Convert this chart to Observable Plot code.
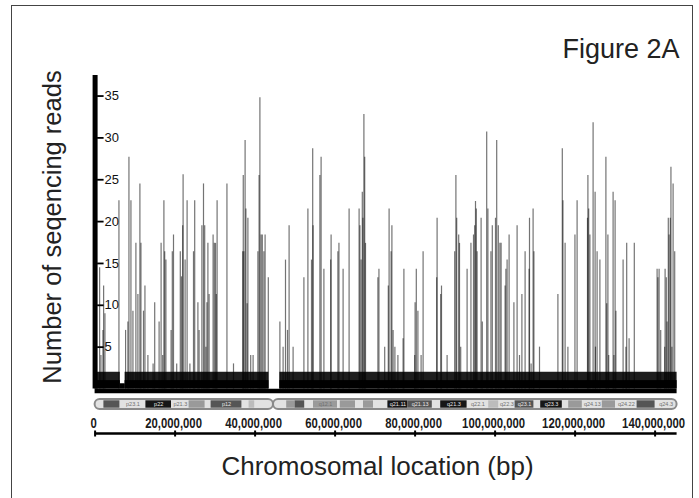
<!DOCTYPE html>
<html>
<head>
<meta charset="utf-8">
<script src="https://cdn.jsdelivr.net/npm/d3@7"></script>
<script src="https://cdn.jsdelivr.net/npm/@observablehq/plot@0.6"></script>
<style>
html,body{margin:0;padding:0;background:#fff;overflow:hidden}
#wrap{position:relative;width:699px;height:498px;overflow:hidden}
#frame{position:absolute;left:11px;top:5px;width:682px;height:540px;border:1.6px solid #444;box-sizing:border-box}
#wrap svg{position:absolute;left:0;top:0}
</style>
</head>
<body>
<div id="wrap"><div id="frame"></div></div>
<script>
// ---------------- DATA ----------------
// Read-count spikes along chromosome 8: position (Mb) and number of reads
const spikePos = [
  1.13,1.46,1.96,2.13,2.46,5.96,7.62,8.2,8.46,8.96,9.46,10.2,10.7,11.2,11.46,12.1,12.46,13.2,14.5,14.9,
  16.0,16.5,16.9,17.2,17.4,17.7,19.0,19.3,19.6,20.4,21.3,21.6,21.9,22.0,22.5,23.0,23.7,24.6,24.9,25.7,
  26.0,26.7,27.1,27.4,27.7,27.96,28.2,28.5,29.5,29.8,30.1,30.3,30.5,32.96,34.6,36.9,
  37.04,37.2,37.5,37.7,38.0,38.2,38.9,39.5,40.7,41.0,41.2,41.5,41.8,42.2,42.5,43.3,
  46.2,47.0,47.6,48.1,48.5,49.5,52.2,53.2,54.1,54.4,54.5,56.2,56.5,57.2,58.9,59.0,60.7,60.96,62.0,63.5,
  66.0,66.2,66.5,66.8,66.96,67.2,67.4,67.6,70.7,70.96,72.4,73.3,73.5,
  74.0,74.2,74.5,74.95,75.7,77.0,77.2,79.9,80.0,80.3,80.7,81.5,82.0,85.4,85.5,86.4,86.6,88.0,
  89.9,90.2,90.4,90.9,91.1,91.4,93.0,93.96,94.6,94.9,95.1,95.3,95.5,96.5,96.8,97.9,98.2,98.96,99.3,
  100.1,100.4,100.8,101.2,101.5,102.5,102.7,103.0,103.5,104.7,105.5,106.1,106.7,107.5,108.5,108.6,109.0,109.5,109.7,
  111.1,115.7,116.8,116.96,117.5,118.2,119.96,120.5,123.1,123.2,123.4,123.7,124.5,125.0,125.1,125.5,126.2,
  127.7,127.9,128.2,128.4,129.5,129.7,130.0,130.2,132.0,132.7,132.9,133.5,134.8,
  140.5,140.7,141.0,141.4,142.4,142.5,142.8,143.0,143.3,143.5,143.8,143.96,144.2,144.5,144.9
];
const spikeReads = [
  14.5,4,7,12.3,9,22.5,7,8,27.7,22.5,9.3,17.4,11.3,24.5,17.4,9.3,12.3,4,3,10.3,
  8,17.4,4,22.5,16.4,15.4,7,16.4,18.4,3,16.4,13.4,19.5,25.6,15.4,22.5,3,16.4,22.5,10.3,
  7,19.5,24.5,19.5,5,10.3,17.4,11.3,18.4,17.4,17.4,11.3,22.5,24.5,3,16.4,
  25.5,16.4,29.7,21.5,10.2,20.4,4,4,16.4,25.5,34.8,18.4,18.4,16.4,18.4,13.3,
  8,5,15.4,7,19.5,5,13.3,21.5,15.4,28.7,19.5,25.5,27.7,14.3,15.4,18.4,16.4,17.4,14.3,21.5,
  21.5,19.5,15.4,23.5,20.4,32.8,27.7,17.4,13.3,14.3,5,12.3,21.5,
  16.4,19.5,7,5,4,6,14.3,4,10.3,14.3,9.3,4,16.4,13.3,20.4,11.3,12.3,4,
  16.4,25.5,20.4,18.4,17.4,5,14.3,17.4,18.4,19.5,22.4,21.5,16.4,20.4,8,30.7,21.5,16.4,19.5,
  20.4,29.7,19.5,17.4,17.4,12.3,14.3,15.4,18.4,10.3,19.5,4,11.3,16.4,14.3,20.4,3,21.5,16.4,
  5,11.3,28.7,22.5,17.4,5,18.4,22.5,20.4,25.5,21.5,18.4,31.8,23.5,5,16.4,15.4,
  27.7,10.2,18.4,4,23.5,4,22.5,9.3,15.4,5,17.4,6,17.4,
  14.3,13.3,14.3,7,5,14.3,13.3,8,20.4,18.4,20.4,26.5,5,24.5,16.4
];

// Background level (1-2 reads) segments
const baseStart = [0, 6.3, 7.5, 46.2];
const baseEnd   = [6.3, 7.5, 43.45, 145.5];
const baseLevel = [2, 0.6, 2, 2];

// Chromosome 8 ideogram bands (Mb)
const bandStart = [0,2.2,6.2,12.7,19.1,23.5,27.5,29.0,36.7,38.5,39.9,
  44.6,47.9,50.0,52.4,54.6,60.6,61.3,65.1,67.1,69.6,73.2,78.2,84.3,86.4,93.0,98.4,100.9,105.0,109.7,111.4,116.8,118.4,121.8,126.8,130.1,135.5,140.0];
const bandEnd = [2.2,6.2,12.7,19.1,23.5,27.5,29.0,36.7,38.5,39.9,44.6,
  47.9,50.0,52.4,54.6,60.6,61.3,65.1,67.1,69.6,73.2,78.2,84.3,86.4,93.0,98.4,100.9,105.0,109.7,111.4,116.8,118.4,121.8,126.8,130.1,135.5,140.0,145.5];
const bandStain = ["gneg","gpos75","gneg","gpos100","gneg","gpos50","gneg","gpos75","gneg","gpos25","gneg",
  "gneg","gpos50","gpos75","gneg","gpos50","gneg","gpos50","gneg","gpos50","gneg","gpos100","gpos75","gneg","gpos100","gneg","gpos25","gneg","gpos75","gneg","gpos100","gneg","gpos50","gneg","gpos50","gneg","gpos75","gneg"];
const bandLabel = ["","","p23.1","p22","p21.3","","","p12","","","",
  "","","","","q12.1","","","","","","q21.11","q21.13","","q21.3","q22.1","","q22.3","q23.1","","q23.3","","","q24.13","","q24.22","","q24.3"];
const armStart = [0, 44.6];
const armEnd = [44.6, 145.5];

const stains = ["gneg","gpos25","gpos50","gpos75","gpos100"];
const stainColors = ["#e2e2e2","#bcbcbc","#9a9a9a","#555555","#161616"];

const xTicks = [0,20,40,60,80,100,120,140];   // Mb
const yTicks = [5,10,15,20,25,30,35];

// ---------------- LAYOUT ----------------
const W = 699, H = 498;
const xMax = 146, yMax = 38;
const x0px = 94.6, pxPerMb = 4, zeroY = 388.5, pxPerRead = 8.37;
const marginLeft = x0px, marginRight = W - (x0px + xMax * pxPerMb);
const marginBottom = H - zeroY, marginTop = zeroY - yMax * pxPerRead;
const frameW = W - marginLeft - marginRight;

const spikes = spikePos.map((p, i) => ({pos: p, reads: spikeReads[i]}));
const base = baseStart.map((s, i) => ({start: s, end: baseEnd[i], level: baseLevel[i]}));
const bands = bandStart.map((s, i) => ({start: s, end: bandEnd[i], stain: bandStain[i], label: bandLabel[i]}));
const arms = armStart.map((s, i) => ({start: s, end: armEnd[i]}));
const chromEnd = armEnd[armEnd.length - 1];

const ideoTop = 399, ideoBot = 409;
const font = "'Liberation Sans', Arial, Helvetica, sans-serif";

const chart = Plot.plot({
  width: W, height: H,
  marginLeft, marginRight, marginTop, marginBottom,
  x: {domain: [0, xMax], axis: null},
  y: {domain: [0, yMax], axis: null},
  color: {domain: stains, range: stainColors},
  style: {fontFamily: font, background: "transparent", overflow: "visible"},
  marks: [
    // background read level
    Plot.rect(base, {x1: "start", x2: "end", y1: 0, y2: "level", fill: "#1e1e1e"}),
    Plot.rect(base, {x1: "start", x2: "end", y1: 0, y2: d => Math.min(1, d.level), fill: "#000"}),
    // read spikes
    Plot.ruleX(spikes, {x: "pos", y1: 0, y2: "reads", stroke: "#000", strokeOpacity: 0.55, strokeWidth: 1.2}),
    // bottom baseline band
    Plot.ruleY([0], {x1: 0, x2: chromEnd, stroke: "#000", strokeWidth: 4.5, dy: 2}),
    // y axis bar, ticks, labels
    Plot.ruleX([0], {y1: 0, y2: yMax, stroke: "#000", strokeWidth: 5, insetBottom: -4.5}),
    Plot.ruleY(yTicks, {y: d => d, stroke: "#000", strokeWidth: 1.8, insetLeft: 2.5, insetRight: frameW - 9}),
    Plot.text(yTicks, {y: d => d, text: d => String(d), frameAnchor: "left", dx: 9.5, textAnchor: "start", fontSize: 13, fill: "#111"}),
    // ideogram
    Plot.rect(arms, {x1: "start", x2: "end", insetTop: ideoTop - marginTop, insetBottom: zeroY - ideoBot, rx: 5, fill: stainColors[0]}),
    Plot.rect(bands.filter(d => d.stain !== "gneg"), {x1: "start", x2: "end", fill: "stain",
      insetTop: ideoTop + 1.3 - marginTop, insetBottom: zeroY - (ideoBot - 1.3)}),
    Plot.text(bands.filter(d => d.label), {x: d => (d.start + d.end) / 2, text: "label", frameAnchor: "bottom",
      dy: (ideoTop + ideoBot) / 2 - zeroY, lineAnchor: "middle", fontSize: 5.5,
      fill: d => (d.stain === "gpos75" || d.stain === "gpos100") ? "#e8e8e8" : "#707070"}),
    Plot.rect(arms, {x1: "start", x2: "end", insetTop: ideoTop - marginTop, insetBottom: zeroY - ideoBot, rx: 5,
      fill: "none", stroke: "#8a8a8a", strokeWidth: 2}),
    // x axis
    Plot.ruleY([0], {x1: 0, x2: chromEnd, stroke: "#000", strokeWidth: 2.3, dy: 44.5}),
    Plot.ruleX(xTicks, {x: d => d, stroke: "#000", strokeWidth: 2, insetTop: 430.5 - marginTop, insetBottom: zeroY - 436.5}),
    Plot.text(xTicks, {x: d => d, text: d => d3.format(",")(d * 1e6), frameAnchor: "bottom", dy: 427 - zeroY, dx: -1.5,
      lineAnchor: "bottom", fontSize: 15.5, fontWeight: "bold",
      fontFamily: "'Liberation Sans Narrow', 'Liberation Sans', Arial, sans-serif", fill: "#1a1a1a"}),
    // titles
    Plot.text(["Figure 2A"], {text: d => d, frameAnchor: "top-right", textAnchor: "end", lineAnchor: "bottom",
      dx: 679 - (W - marginRight), dy: 57 - marginTop, fontSize: 27, fill: "#222"}),
    Plot.text(["Number of seqencing reads"], {text: d => d, frameAnchor: "left", rotate: -90, textAnchor: "middle",
      lineAnchor: "bottom", dx: 60 - marginLeft, dy: 226.5 - (marginTop + zeroY) / 2, fontSize: 25.5, fill: "#222"}),
    Plot.text(["Chromosomal location (bp)"], {text: d => d, frameAnchor: "bottom", textAnchor: "middle",
      lineAnchor: "bottom", dx: 377 - (marginLeft + W - marginRight) / 2, dy: 474 - zeroY, fontSize: 26, fill: "#222"})
  ]
});
document.getElementById("wrap").appendChild(chart);

// condense the bold tick labels to the narrow width of the reference lettering
const digitW = 6.3;
chart.querySelectorAll('g[font-weight="bold"] text').forEach(t => {
  const s = t.textContent;
  const units = [...s].reduce((a, c) => a + (c === "," ? 0.5 : 1), 0);
  t.setAttribute("textLength", (units * digitW).toFixed(1));
  t.setAttribute("lengthAdjust", "spacingAndGlyphs");
});
</script>
</body>
</html>
